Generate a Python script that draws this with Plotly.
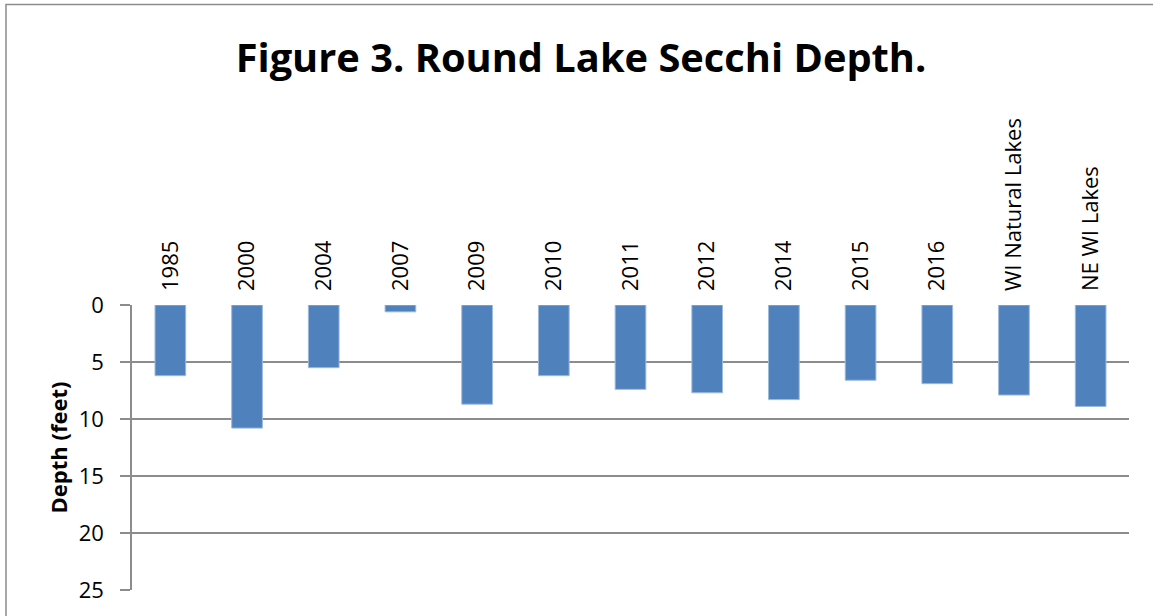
import plotly.graph_objects as go

# Secchi depth readings (feet) for Round Lake and regional averages
categories = ["1985", "2000", "2004", "2007", "2009", "2010", "2011", "2012",
              "2014", "2015", "2016", "WI Natural Lakes", "NE WI Lakes"]
depth_feet = [6.2, 10.8, 5.5, 0.6, 8.7, 6.2, 7.4, 7.7, 8.3, 6.6, 6.9, 7.9, 8.9]
y_ticks = [0, 5, 10, 15, 20, 25]

font_family = "Open Sans, Lato, sans-serif"

fig = go.Figure(
    go.Bar(
        x=categories,
        y=depth_feet,
        marker=dict(color="#4F81BD", line=dict(color="#9DB9DC", width=1)),
        width=0.4,
    )
)

fig.update_layout(
    width=1153,
    height=616,
    paper_bgcolor="white",
    plot_bgcolor="white",
    margin=dict(l=132, r=24, t=305, b=26),
    showlegend=False,
    title=dict(
        text="<b>Figure 3. Round Lake Secchi Depth.</b>",
        x=581 / 1153, xanchor="center", xref="container",
        y=0.906, yanchor="middle", yref="container",
        font=dict(family=font_family, size=39.8, color="black"),
    ),
    font=dict(family=font_family, color="black"),
    shapes=[
        dict(type="rect", xref="paper", yref="paper",
             x0=-126 / 997, x1=1146 / 997, y0=-0.2, y1=1 + 300 / 284.5,
             line=dict(color="#8C8C8C", width=1.5), layer="below"),
    ],
)

fig.update_xaxes(
    side="top",
    type="category",
    tickangle=-90,
    tickfont=dict(size=22),
    showgrid=False,
    showline=False,
    ticks="",
    ticklabelstandoff=13,
)

fig.update_yaxes(
    range=[25, 0],
    tickvals=y_ticks,
    tickfont=dict(size=22),
    showgrid=True,
    gridcolor="#8C8C8C",
    gridwidth=1.5,
    showline=True,
    linecolor="#8C8C8C",
    linewidth=1.5,
    ticks="outside",
    ticklen=10,
    tickcolor="#8C8C8C",
    tickwidth=1.5,
    ticklabelstandoff=12,
    zeroline=False,
    title=dict(text="<b>Depth (feet)</b>", font=dict(size=22), standoff=5),
)

fig.write_html("out.html")
